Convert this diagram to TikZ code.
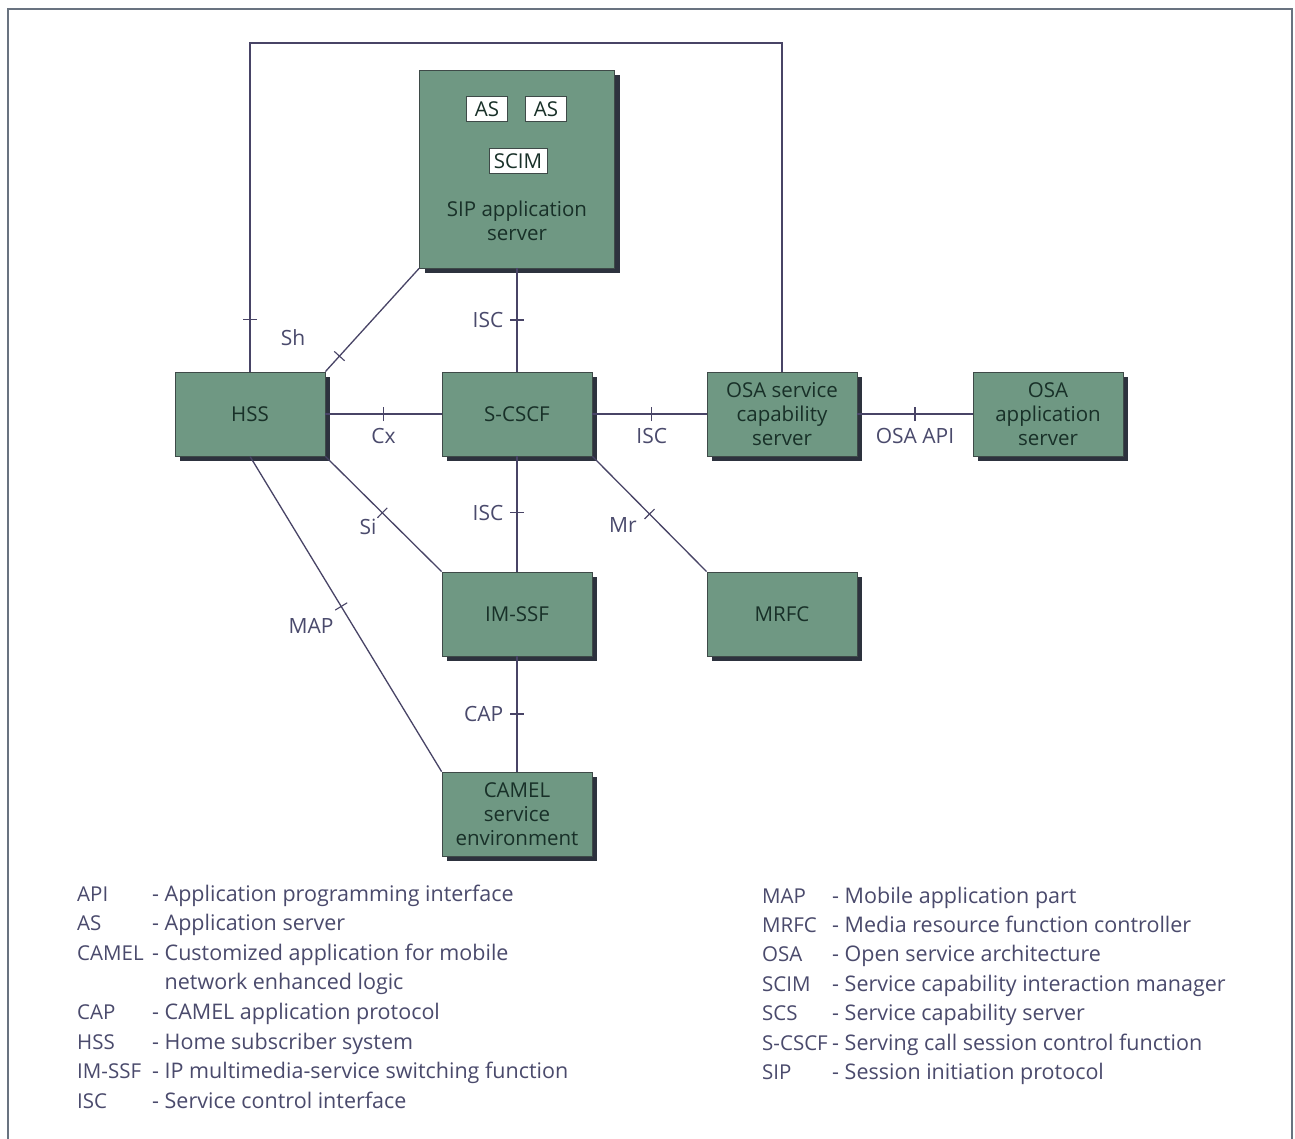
\documentclass[tikz,border=0pt]{standalone}
\usepackage{fontspec}
\setmainfont{Open Sans}
\usetikzlibrary{shadows,decorations.markings}

\definecolor{boxgreen}{RGB}{111,152,131}
\definecolor{boxedge}{RGB}{62,74,72}
\definecolor{shadowc}{RGB}{45,50,62}
\definecolor{linec}{RGB}{72,68,102}
\definecolor{lblc}{RGB}{74,74,108}
\definecolor{boxtext}{RGB}{24,48,40}
\definecolor{framec}{RGB}{105,115,128}

\tikzset{
  unit/.style={rectangle, fill=boxgreen, draw=boxedge, line width=0.8pt,
    minimum width=150pt, minimum height=84pt, inner sep=2pt, align=center,
    text=boxtext, font=\fontsize{20.5}{24}\selectfont,
    drop shadow={shadow xshift=5pt, shadow yshift=-5pt, fill=shadowc, opacity=1}},
  inbox/.style={rectangle, fill=white, draw=boxedge, line width=0.8pt, inner sep=0pt,
    minimum height=25pt, text=boxtext, font=\fontsize{20.5}{24}\selectfont},
  link/.style={draw=linec, line width=1.3pt},
  tickat/.style={postaction={decorate, decoration={markings,
    mark=at position #1 with {\draw[linec, line width=1.1pt] (0,-7pt) -- (0,7pt);}}}},
  lbl/.style={text=lblc, inner sep=0pt, font=\fontsize{21}{24}\selectfont},
  legend/.style={anchor=base west, text=lblc, inner sep=0pt, font=\fontsize{21.5}{24}\selectfont},
  legabbr/.style={legend, font=\fontsize{20.5}{24}\selectfont},
}

\begin{document}
\begin{tikzpicture}[x=1pt, y=-1pt]
  \useasboundingbox (0,0) rectangle (1295,1139);
  \fill[white] (0,0) rectangle (1295,1139);
  \draw[framec, line width=2.5pt] (8,9) rectangle (1292,1170);

  % boxes
  \node[unit, minimum width=195pt, minimum height=198pt] (sip) at (517,169) {};
  \node[inbox, minimum width=41pt] (as1) at (487,109) {AS};
  \node[inbox, minimum width=41pt] (as2) at (546,109) {AS};
  \node[inbox, minimum width=58pt] (scim) at (518,161) {SCIM};
  \node[text=boxtext, align=center, font=\fontsize{20.5}{24}\selectfont] (siptext) at (517,221) {SIP application\\server};

  \node[unit] (hss) at (250,414) {HSS};
  \node[unit] (scscf) at (517,414) {S-CSCF};
  \node[unit] (osascs) at (782,414) {OSA service\\capability\\server};
  \node[unit] (osaas) at (1048,414) {OSA\\application\\server};
  \node[unit] (imssf) at (517,614) {IM-SSF};
  \node[unit] (mrfc) at (782,614) {MRFC};
  \node[unit] (camel) at (517,814) {CAMEL\\service\\environment};

  % connectors
  \coordinate (loopl) at (250,43);
  \coordinate (loopr) at (782,43);
  \draw[link, tickat=52pt] (hss.north) -- (loopl) -- (loopr) -- (osascs.north);

  \draw[link, tickat=.85] (sip.south west) -- (hss.north east);
  \node[lbl] (shlbl) at (293,338) {Sh};
  \draw[link, tickat=.5] (sip.south) -- node[lbl, left=13pt] (isc1) {ISC} (scscf.north);
  \draw[link, tickat=.5] (hss.east) -- node[lbl, below=14pt] (cx) {Cx} (scscf.west);
  \draw[link, tickat=.52] (scscf.east) -- node[lbl, pos=.52, below=14pt] (isc2) {ISC} (osascs.west);
  \draw[link, tickat=.5] (osascs.east) -- node[lbl, below=14pt] (osaapi) {OSA API} (osaas.west);
  \draw[link, tickat=.49] (scscf.south) -- node[lbl, pos=.49, left=13pt] (isc3) {ISC} (imssf.north);
  \draw[link, tickat=.5] (imssf.south) -- node[lbl, left=13pt] (cap) {CAP} (camel.north);

  \draw[link, tickat=.49] (hss.south east) -- (imssf.north west);
  \node[lbl] (silbl) at (368,527) {Si};
  \draw[link, tickat=.476] (hss.south) -- (camel.north west);
  \node[lbl] (maplbl) at (311,626) {MAP};
  \draw[link, tickat=.5] (scscf.south east) -- (mrfc.north west);
  \node[lbl] (mrlbl) at (623,525) {Mr};

  % legend
  \foreach \ab/\de [count=\i from 0] in {API/{- Application programming interface},
      AS/{- Application server}, CAMEL/{- Customized application for mobile},
      /{\phantom{- }network enhanced logic}, CAP/{- CAMEL application protocol},
      HSS/{- Home subscriber system}, IM-SSF/{- IP multimedia-service switching function},
      ISC/{- Service control interface}}{
    \node[legabbr] (la\i) at (77,901+29.6*\i) {\ab};
    \node[legend] (ld\i) at (152,901+29.6*\i) {\de};
  }
  \foreach \ab/\de [count=\i from 0] in {MAP/{- Mobile application part},
      MRFC/{- Media resource function controller}, OSA/{- Open service architecture},
      SCIM/{- Service capability interaction manager}, SCS/{- Service capability server},
      S-CSCF/{- Serving call session control function}, SIP/{- Session initiation protocol}}{
    \node[legabbr] (ra\i) at (762,903+29.4*\i) {\ab};
    \node[legend] (rd\i) at (832,903+29.4*\i) {\de};
  }
\end{tikzpicture}
\end{document}
